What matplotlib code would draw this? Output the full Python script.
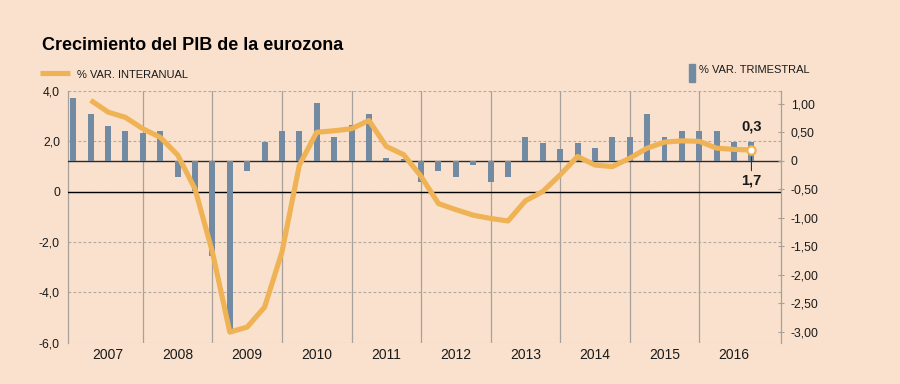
import matplotlib
matplotlib.use('Agg')
import matplotlib.pyplot as plt
from matplotlib import font_manager
from matplotlib.lines import Line2D
from matplotlib.patches import Rectangle
import pandas as pd

# ---------------- data ----------------
title = "Crecimiento del PIB de la eurozona"
legend_line_label = "% VAR. INTERANUAL"
legend_bar_label = "% VAR. TRIMESTRAL"

bar_quarters = pd.period_range('2006Q4', '2016Q3', freq='Q')
bar_values = [1.10, 0.82, 0.61, 0.52, 0.48, 0.51, -0.29, -0.54, -1.68, -3.00,
              -0.18, 0.32, 0.51, 0.51, 1.01, 0.42, 0.62, 0.82, 0.05, 0.03,
              -0.38, -0.18, -0.29, -0.08, -0.38, -0.29, 0.41, 0.31, 0.20, 0.31,
              0.22, 0.42, 0.41, 0.82, 0.41, 0.52, 0.52, 0.52, 0.32, 0.32]

line_quarters = pd.period_range('2007Q1', '2016Q3', freq='Q')
line_values = [3.62, 3.15, 2.94, 2.49, 2.15, 1.45, 0.10, -2.40, -5.58, -5.38,
               -4.59, -2.40, 1.05, 2.35, 2.41, 2.49, 2.82, 1.79, 1.46, 0.60,
               -0.48, -0.72, -0.94, -1.07, -1.17, -0.37, 0.00, 0.66, 1.39, 1.05,
               0.99, 1.32, 1.72, 1.96, 2.01, 1.99, 1.72, 1.67, 1.65]

years = list(range(2007, 2017))
left_ticks = [-6, -4, -2, 0, 2, 4]
left_labels = ['-6,0', '-4,0', '-2,0', '0', '2,0', '4,0']
right_ticks = [-3.0, -2.5, -2.0, -1.5, -1.0, -0.5, 0.0, 0.5, 1.0]
right_labels = ['-3,00', '-2,50', '-2,00', '-1,50', '-1,00', '-0,50', '0', '0,50', '1,00']
last_bar_label = '0,3'
last_line_label = '1,7'

# ---------------- style ----------------
names = {f.name for f in font_manager.fontManager.ttflist}
NARROW = 'Liberation Sans Narrow' if 'Liberation Sans Narrow' in names else 'Liberation Sans'
plt.rcParams['font.family'] = [NARROW, 'DejaVu Sans']

BG = '#f9e1cd'
ORANGE = '#efb254'
BAR = '#728ba2'
GRID = '#b3a89f'
VGRID = '#a8a09a'
TXT = '#1a1a1a'


def qpos(periods):
    return periods.year + periods.quarter / 4.0


xb = qpos(bar_quarters)
xl = qpos(line_quarters)

fig = plt.figure(figsize=(9, 3.84), dpi=100, facecolor=BG)
W, H = 900.0, 384.0
pos = [68.3 / W, 1 - 342.7 / H, (781 - 68.3) / W, (342.7 - 90.7) / H]

xlim = (2006.928, 2017.175)

ax = fig.add_axes(pos, zorder=0)
ax.set_facecolor(BG)
ax.set_xlim(*xlim)
ax.set_ylim(-6, 4)

ax2 = ax.twinx()
ax2.set_zorder(1)
ax2.patch.set_visible(False)
ax2.set_ylim(-3.196, 1.2246)

ax3 = fig.add_axes(pos, sharex=ax, sharey=ax, zorder=2)
ax3.patch.set_visible(False)
ax3.axis('off')

# grid (bottom layer)
ax.set_yticks(left_ticks)
ax.set_yticklabels(left_labels)
ax.yaxis.grid(True, color=GRID, lw=0.8, ls=(0, (2.5, 2)))
ax.set_xticks(years[1:], minor=True)
mids = [(max(y, xlim[0]) + min(y + 1, xlim[1])) / 2 for y in years]
ax.set_xticks(mids)
ax.set_xticklabels([str(y) for y in years])
ax.xaxis.grid(True, which='minor', color=VGRID, lw=0.9, ls='-')
ax.xaxis.grid(False, which='major')
ax.set_axisbelow(True)
ax.axhline(0, color='black', lw=1.0, zorder=3)
ax.tick_params(axis='x', which='both', length=0, pad=4, labelsize=10, colors=TXT)
ax.tick_params(axis='y', length=0, pad=6, labelsize=8.8, colors=TXT)
for s in ['top', 'bottom', 'right']:
    ax.spines[s].set_visible(False)
ax.spines['left'].set_color(VGRID)
ax.spines['left'].set_linewidth(0.9)

# bars (right axis)
ax2.axhline(0, color='#2a2a2a', lw=1.0, zorder=1)
ax2.bar(xb, bar_values, width=0.086, color=BAR, zorder=2)
ax2.set_yticks(right_ticks)
ax2.set_yticklabels(right_labels)
ax2.tick_params(axis='y', direction='inout', length=5, width=0.8, color=VGRID,
                pad=4.5, labelsize=8.8, labelcolor=TXT)
for s in ['top', 'bottom', 'left']:
    ax2.spines[s].set_visible(False)
ax2.spines['right'].set_color(VGRID)
ax2.spines['right'].set_linewidth(0.9)

ax2.annotate(last_bar_label, xy=(xb[-1], bar_values[-1]), xytext=(0, 11),
             textcoords='offset points', ha='center', va='center',
             fontsize=10.5, fontweight='bold', color=TXT)

# line (left axis, top layer)
ax3.plot(xl, line_values, color=ORANGE, lw=3.7, solid_joinstyle='round',
         solid_capstyle='butt', zorder=3)
ax3.annotate(last_line_label, xy=(xl[-1], line_values[-1]), xytext=(0, -22),
             textcoords='offset points', ha='center', va='center',
             fontsize=10.5, fontweight='bold', color=TXT,
             arrowprops=dict(arrowstyle='-', color='#333333', lw=0.8,
                             shrinkA=0, shrinkB=5), zorder=4)
ax3.plot([xl[-1]], [line_values[-1]], 'o', ms=6, mfc='white', mec=ORANGE,
         mew=1.6, zorder=5)

# title & legends
fig.text(42 / W, 1 - 49.5 / H, title, fontsize=13, fontweight='bold',
         color='black', ha='left', va='baseline')
fig.add_artist(Line2D([40 / W, 70 / W], [1 - 72.7 / H] * 2, color=ORANGE, lw=3.7,
                      solid_capstyle='butt'))
fig.text(77 / W, 1 - 74.7 / H, legend_line_label, fontsize=8, color=TXT,
         ha='left', va='center')
fig.add_artist(Rectangle((689 / W, 1 - 81.7 / H), 6 / W, 17.7 / H,
                         transform=fig.transFigure, color=BAR))
fig.text(699 / W, 1 - 70 / H, legend_bar_label, fontsize=8, color=TXT,
         ha='left', va='center')

fig.savefig('out.png', dpi=100, facecolor=BG)
